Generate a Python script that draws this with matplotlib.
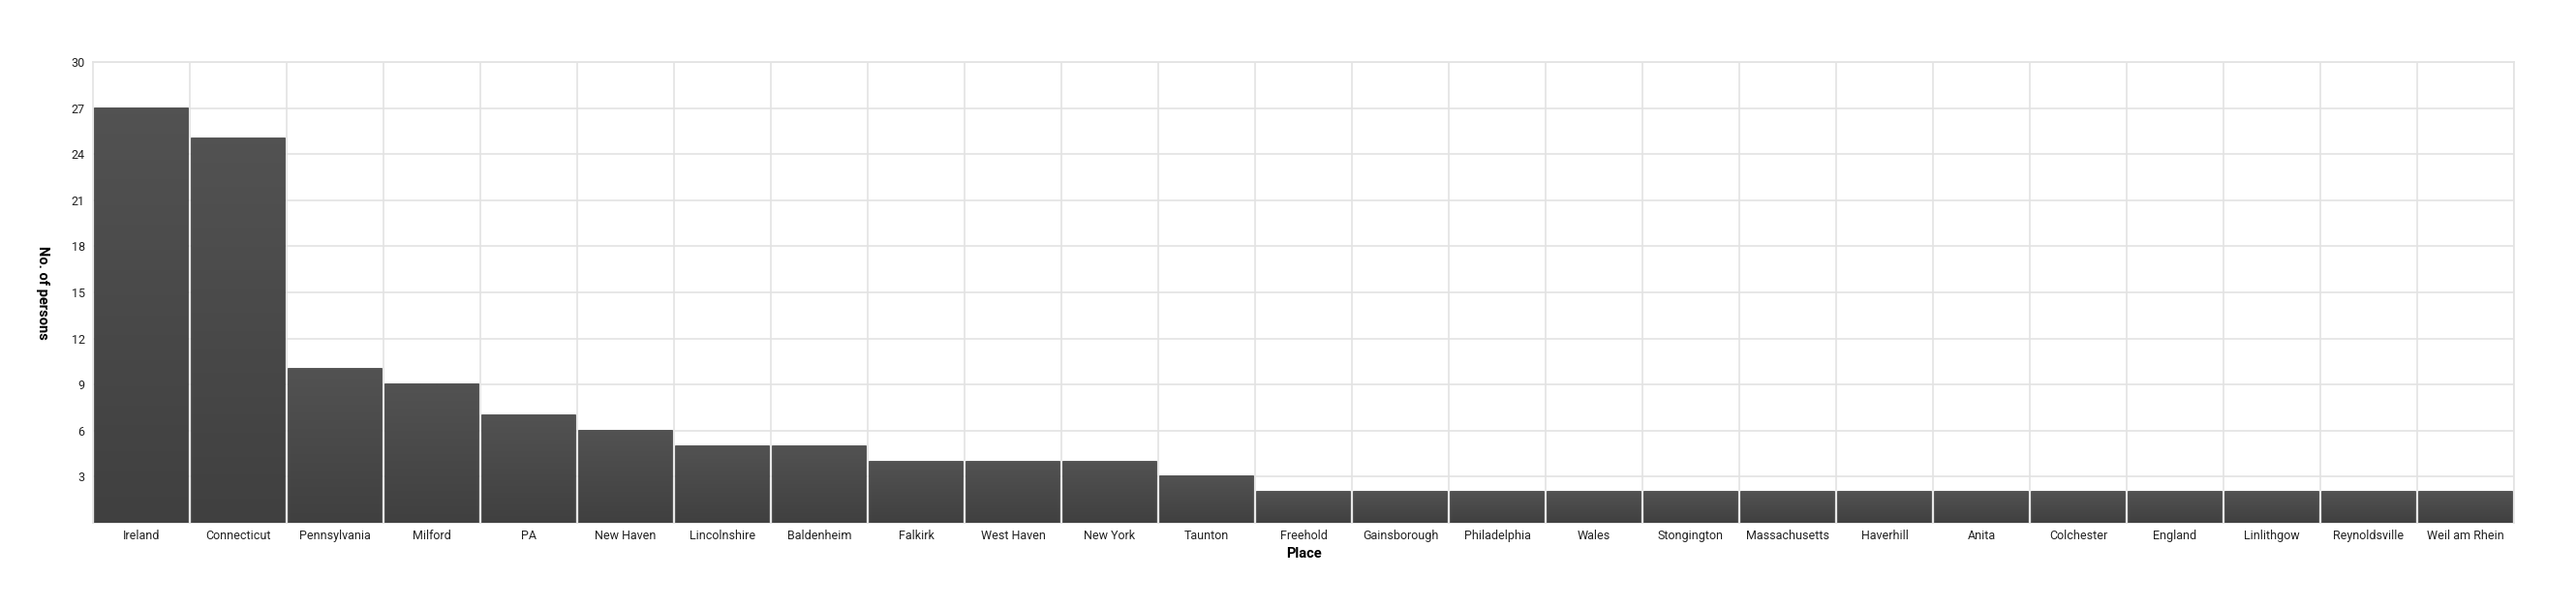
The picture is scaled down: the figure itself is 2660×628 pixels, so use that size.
import numpy as np
import matplotlib.pyplot as plt
from matplotlib.colors import LinearSegmentedColormap

places = ['Ireland', 'Connecticut', 'Pennsylvania', 'Milford', 'PA', 'New Haven',
          'Lincolnshire', 'Baldenheim', 'Falkirk', 'West Haven', 'New York', 'Taunton',
          'Freehold', 'Gainsborough', 'Philadelphia', 'Wales', 'Stongington',
          'Massachusetts', 'Haverhill', 'Anita', 'Colchester', 'England', 'Linlithgow',
          'Reynoldsville', 'Weil am Rhein']
persons = [27, 25, 10, 9, 7, 6, 5, 5, 4, 4, 4, 3,
           2, 2, 2, 2, 2, 2, 2, 2, 2, 2, 2, 2, 2]
yticks = [3, 6, 9, 12, 15, 18, 21, 24, 27, 30]

plt.rcParams['font.family'] = ['Roboto', 'DejaVu Sans']

fig = plt.figure(figsize=(26.6, 6.28), dpi=100)
ax = fig.add_axes([96 / 2660, 1 - 540 / 628, (2596 - 96) / 2660, (540 - 64) / 628])

x = np.arange(len(places))
bars = ax.bar(x, persons, width=0.955, color='#474747', edgecolor='#3a3a3a',
              linewidth=1.2, zorder=3)

# subtle vertical gradient inside each bar
grad = LinearSegmentedColormap.from_list('g', ['#404040', '#525252'])
for b in bars:
    x0, w, h = b.get_x(), b.get_width(), b.get_height()
    im = ax.imshow(np.linspace(0, 1, 64).reshape(-1, 1), cmap=grad, aspect='auto',
                   origin='lower', extent=[x0, x0 + w, 0, h], zorder=3.5)
    im.set_clip_path(b)

ax.set_xlim(-0.5, len(places) - 0.5)
ax.set_ylim(0, 30)
ax.set_xticks(x)
ax.set_xticklabels(places, fontsize=9, color='#222222')
ax.set_yticks(yticks)
ax.set_yticklabels([str(t) for t in yticks], fontsize=9, color='#222222')
ax.tick_params(axis='x', length=0, pad=5)
ax.tick_params(axis='y', length=0, pad=6)

ax.set_xticks(np.arange(len(places)) + 0.5, minor=True)
ax.tick_params(which='minor', length=0)
ax.grid(axis='y', which='major', color='#e3e3e3', linewidth=1.2, zorder=0)
ax.grid(axis='x', which='minor', color='#e3e3e3', linewidth=1.2, zorder=0)
ax.grid(axis='x', which='major', visible=False)

for side in ['top', 'right', 'left', 'bottom']:
    ax.spines[side].set_color('#e3e3e3')
    ax.spines[side].set_linewidth(1.2)

ax.set_xlabel('Place', fontsize=10.5, fontweight='bold', labelpad=4)
ax.set_ylabel('No. of persons', fontsize=10.5, fontweight='bold', rotation=-90,
              va='center')
ax.yaxis.set_label_coords((44 - 96) / 2500, 0.5)

fig.savefig('out.png', dpi=100, facecolor='white')
